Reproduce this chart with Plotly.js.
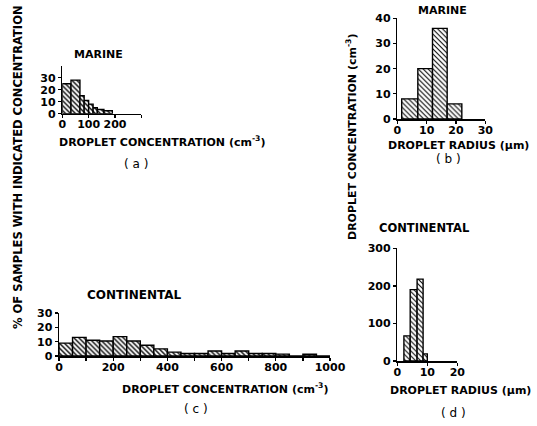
<!DOCTYPE html>
<html>
<head>
<meta charset="utf-8">
<script src="https://cdn.plot.ly/plotly-3.0.1.min.js"></script>
<style>
html,body{margin:0;padding:0;background:#fff;}
#chart{width:537px;height:426px;}
</style>
</head>
<body>
<div id="chart"></div>
<script>
// ---- Data ----
// (a) Marine: droplet concentration histogram (% of samples)
const aEdges = [0, 33, 67, 83, 100, 117, 133, 158, 190];
const aPercent = [25, 28, 15, 11, 8, 5, 3.5, 2.5];
// (b) Marine: droplet concentration (cm^-3) vs droplet radius (um)
const bEdges = [1.5, 7, 12, 17, 22];
const bConc = [8, 20, 36, 6];
// (c) Continental: droplet concentration histogram (% of samples)
const cEdges = [0, 50, 100, 150, 200, 250, 300, 350, 400, 450, 500, 550, 600, 650, 700, 750, 800, 850, 900, 950, 1000];
const cPercent = [9, 13, 11, 10.5, 13.5, 10.5, 7.5, 5, 2.7, 1.7, 1.7, 3.5, 1.7, 3.5, 1.7, 1.7, 1.3, 0, 1.2, 0];
// (d) Continental: droplet concentration (cm^-3) vs droplet radius (um)
const dEdges = [2.2, 4.3, 6.6, 8.6, 10];
const dConc = [67, 190, 218, 19];

// Tick values / labels
const aXTicks = [0, 100, 200];
const aXMinor = [0, 100, 200, 300];
const aYTicks = [0, 10, 20, 30];
const bXTicks = [0, 10, 20, 30];
const bYTicks = [0, 10, 20, 30, 40];
const cXTicks = [0, 200, 400, 600, 800, 1000];
const cXMinor = [0, 100, 200, 300, 400, 500, 600, 700, 800, 900, 1000];
const cYTicks = [0, 10, 20, 30];
const dXTicks = [0, 10, 20];
const dYTicks = [0, 100, 200, 300];

// ---- Helpers ----
const W = 537, H = 426;
const px = x => x / W;
const py = y => 1 - y / H;
const FONT = {family: 'DejaVu Sans, sans-serif', size: 11, color: '#000', weight: 'bold'};
const f = (o) => Object.assign({}, FONT, o);

function centers(edges) {
  const c = [];
  for (let i = 0; i < edges.length - 1; i++) c.push((edges[i] + edges[i + 1]) / 2);
  return c;
}
function widths(edges) {
  const w = [];
  for (let i = 0; i < edges.length - 1; i++) w.push(edges[i + 1] - edges[i]);
  return w;
}
function barTrace(edges, vals, xa, ya, pat) {
  return {
    type: 'bar', x: centers(edges), y: vals, width: widths(edges),
    xaxis: xa, yaxis: ya, hoverinfo: 'skip',
    marker: {
      color: 'white',
      line: {color: '#000', width: 1.4},
      pattern: Object.assign({shape: '\\', fgcolor: '#000', bgcolor: 'white', size: 3.5, solidity: 0.4}, pat || {})
    }
  };
}

const data = [
  barTrace(aEdges, aPercent, 'x', 'y'),
  barTrace(bEdges, bConc, 'x2', 'y2', {size: 3.5, solidity: 0.3}),
  barTrace(cEdges, cPercent, 'x3', 'y3'),
  barTrace(dEdges, dConc, 'x4', 'y4', {size: 3.5, solidity: 0.3})
];

function axis(domain, range, tickvals, minorvals, anchor, isX) {
  const ax = {
    domain: domain, range: range, anchor: anchor,
    showline: true, linecolor: '#000', linewidth: 1.5,
    ticks: 'outside', ticklen: 3, tickwidth: 1.3, tickcolor: '#000',
    showgrid: false, zeroline: false, fixedrange: true,
    tickmode: 'array', tickvals: tickvals, tickfont: FONT
  };
  if (isX) ax.ticklabelstandoff = -3;
  if (minorvals) ax.minor = {tickmode: 'array', tickvals: minorvals, ticks: 'outside', ticklen: 3, tickwidth: 1.3, tickcolor: '#000', showgrid: false};
  return ax;
}

const layout = {
  width: W, height: H,
  margin: {l: 0, r: 0, t: 0, b: 0},
  paper_bgcolor: 'white', plot_bgcolor: 'rgba(0,0,0,0)',
  showlegend: false, barmode: 'overlay',
  xaxis:  axis([px(62.3), px(141.3)], [0, 300], aXTicks, aXMinor, 'y', true),
  yaxis:  axis([py(113.7), py(65.7)], [0, 40], aYTicks, null, 'x'),
  xaxis2: axis([px(397.3), px(485.3)], [0, 30], bXTicks, null, 'y2', true),
  yaxis2: axis([py(119), py(18.3)], [0, 40], bYTicks, null, 'x2'),
  xaxis3: axis([px(59), px(330)], [0, 1000], cXTicks, cXMinor, 'y3', true),
  yaxis3: axis([py(356), py(313)], [0, 30], cYTicks, null, 'x3'),
  xaxis4: axis([px(397.3), px(457.3)], [0, 20], dXTicks, null, 'y4', true),
  yaxis4: axis([py(361), py(248.3)], [0, 300], dYTicks, null, 'x4'),
  annotations: []
};

function note(text, x, y, opts) {
  layout.annotations.push(Object.assign({
    text: text, x: px(x), y: py(y), xref: 'paper', yref: 'paper',
    xanchor: 'center', yanchor: 'middle', showarrow: false, font: FONT
  }, opts || {}));
}

// Panel titles
note('MARINE', 98, 55);
note('MARINE', 442, 10);
note('CONTINENTAL', 134, 295, {font: f({size: 12})});
note('CONTINENTAL', 424, 228, {font: f({size: 11.5})});
// Axis titles
note('DROPLET CONCENTRATION (cm<sup>-3</sup>)', 162, 141);
note('DROPLET RADIUS (μm)', 458, 145);
note('DROPLET CONCENTRATION (cm<sup>-3</sup>)', 225, 388);
note('DROPLET RADIUS (μm)', 460, 390);
// Panel letters
note('( a )', 136, 164, {font: f({size: 12, weight: 'normal'})});
note('( b )', 448, 159, {font: f({size: 12, weight: 'normal'})});
note('( c )', 196, 409, {font: f({size: 12, weight: 'normal'})});
note('( d )', 453, 413, {font: f({size: 12, weight: 'normal'})});
// Shared rotated labels
note('% OF SAMPLES WITH INDICATED CONCENTRATION', 18, 167, {textangle: -90, font: f({size: 11.5})});
note('DROPLET CONCENTRATION (cm<sup>-3</sup>)', 351, 137, {textangle: -90});

Plotly.newPlot('chart', data, layout, {staticPlot: true, displayModeBar: false});
</script>
</body>
</html>
